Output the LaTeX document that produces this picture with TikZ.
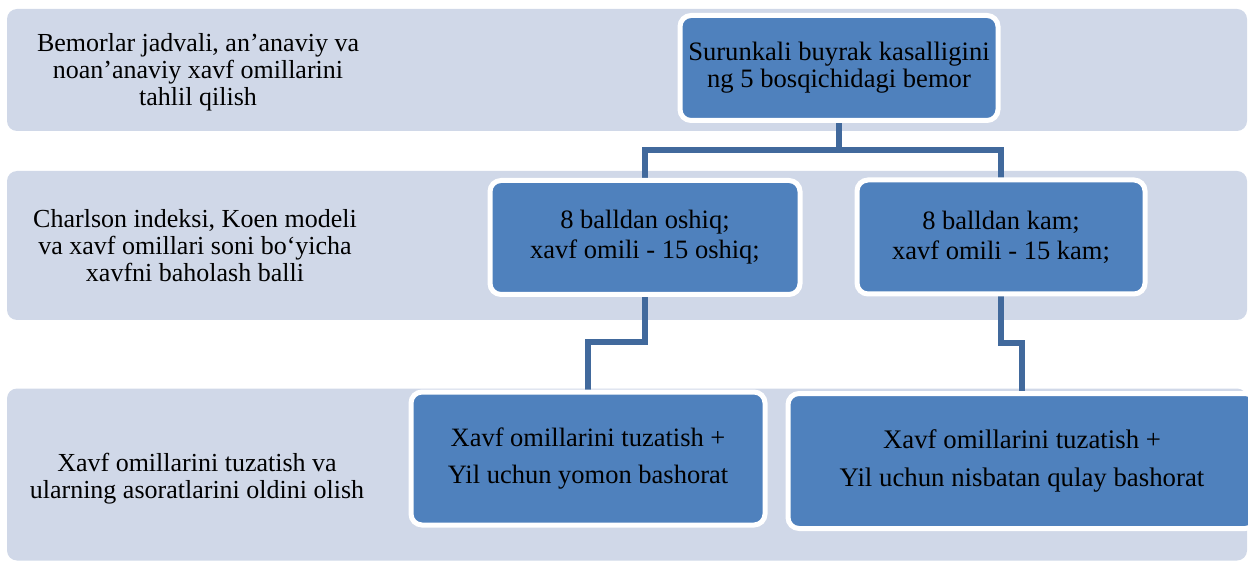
\documentclass[tikz,border=0pt]{standalone}
\usepackage{fontspec}
\setmainfont{Liberation Serif}
\definecolor{bandc}{HTML}{D0D8E8}
\definecolor{boxc}{HTML}{4F81BD}
\definecolor{connc}{HTML}{41699C}
\pgfdeclarelayer{bands}
\pgfdeclarelayer{conns}
\pgfsetlayers{bands,conns,main}
\begin{document}
\begin{tikzpicture}[x=1pt,y=-1pt,
  band/.style={fill=bandc, draw=none, rounded corners=10pt, inner sep=0pt, outer sep=0pt},
  bandtext/.style={align=center, text=black, inner sep=0pt, font=\fontsize{26}{27}\selectfont},
  stepbox/.style={fill=boxc, draw=white, line width=5pt, rounded corners=11pt, inner sep=0pt, outer sep=0pt, align=center, text=black},
  conn/.style={draw=connc, line width=5.5pt}
]
\useasboundingbox (0,0) rectangle (1248,561);
\begin{pgfonlayer}{bands}
\node[band, minimum width=1240pt, minimum height=122pt] (L1) at (627,70) {};
\node[band, minimum width=1240pt, minimum height=149pt] (L2) at (627,245.5) {};
\node[band, minimum width=1240pt, minimum height=172pt] (L3) at (627,474.5) {};
\end{pgfonlayer}
\node[bandtext] (t1) at (198,72) {Bemorlar jadvali, an’anaviy va\\noan’anaviy xavf omillarini\\tahlil qilish};
\node[bandtext] (t2) at (195,246) {Charlson indeksi, Koen modeli\\va xavf omillari soni bo‘yicha\\xavfni baholash balli};
\node[bandtext] (t3) at (197,479) {Xavf omillarini tuzatish va\\ularning asoratlarini oldini olish};

\node[stepbox, minimum width=318pt, minimum height=105pt, font=\fontsize{26.6}{27}\selectfont] (top) at (839,68) {Surunkali buyrak kasalligini\\ng 5 bosqichidagi bemor};
\node[stepbox, minimum width=310pt, minimum height=114pt, font=\fontsize{26.5}{30}\selectfont] (b2) at (645,237.5) {8 balldan oshiq;\\xavf omili - 15 oshiq;};
\node[stepbox, minimum width=288pt, minimum height=114pt, font=\fontsize{26.5}{30}\selectfont] (b3) at (1001,237) {8 balldan kam;\\xavf omili - 15 kam;};
\node[stepbox, minimum width=354pt, minimum height=133pt, font=\fontsize{26.5}{37}\selectfont] (b4) at (588,458.5) {Xavf omillarini tuzatish +\\Yil uchun yomon bashorat};
\node[stepbox, minimum width=468pt, minimum height=135pt, font=\fontsize{26.8}{38}\selectfont] (b5) at (1022,461) {Xavf omillarini tuzatish +\\Yil uchun nisbatan qulay bashorat};

\coordinate (j1) at (839,150);
\coordinate (j2) at (588,342);
\coordinate (j3) at (1022,343);
\begin{pgfonlayer}{conns}
\draw[conn] (top.south) -- (j1);
\draw[conn] (b2.north) |- (j1) -| (b3.north);
\draw[conn] (b2.south) |- (j2) -- (b4.north);
\draw[conn] (b3.south) |- (j3) -- (b5.north);
\end{pgfonlayer}
\end{tikzpicture}
\end{document}
